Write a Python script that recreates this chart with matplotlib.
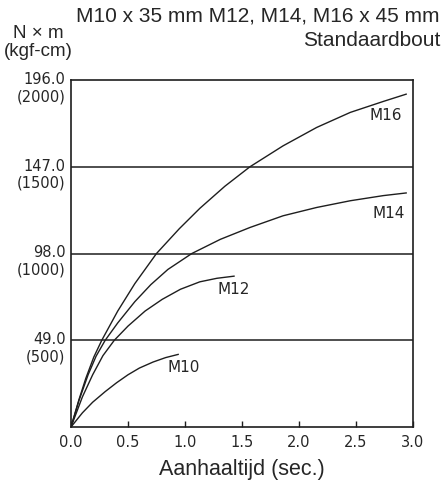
import matplotlib
matplotlib.use('Agg')
import matplotlib.pyplot as plt

# Aanhaalmoment (N x m) tegen aanhaaltijd (sec.)
m16_t = [0.0, 0.07, 0.13, 0.20, 0.27, 0.41, 0.56, 0.75, 0.95, 1.13, 1.35,
         1.57, 1.86, 2.155, 2.45, 2.74, 2.94]
m16_nm = [0.0, 15.5, 27.5, 39.5, 49.0, 65.5, 81.0, 98.0, 112.0, 123.5, 136.0,
          147.0, 158.8, 169.2, 177.7, 183.9, 188.0]

m14_t = [0.0, 0.07, 0.15, 0.22, 0.30, 0.41, 0.56, 0.70, 0.85, 1.06, 1.31,
         1.57, 1.86, 2.155, 2.45, 2.74, 2.94]
m14_nm = [0.0, 15.0, 29.5, 40.0, 49.0, 58.8, 70.8, 80.4, 89.0, 98.0, 106.0,
          112.7, 119.3, 124.0, 127.8, 130.7, 132.2]

m12_t = [0.0, 0.10, 0.19, 0.28, 0.38, 0.50, 0.65, 0.80, 0.96, 1.13, 1.28, 1.43]
m12_nm = [0.0, 17.0, 29.5, 40.3, 49.0, 57.0, 65.5, 72.1, 77.8, 82.0, 84.0, 85.2]

m10_t = [0.0, 0.10, 0.19, 0.30, 0.40, 0.50, 0.60, 0.72, 0.83, 0.94]
m10_nm = [0.0, 8.0, 14.0, 20.0, 25.0, 29.5, 33.3, 36.7, 39.2, 41.0]

labels = ['M16', 'M14', 'M12', 'M10']
label_pos = [(2.76, 176), (2.79, 120.5), (1.43, 77.5), (0.99, 33.5)]

x_ticks = [0.0, 0.5, 1.0, 1.5, 2.0, 2.5, 3.0]
y_ticks = [49.0, 98.0, 147.0, 196.0]
kgf_labels = ['(500)', '(1000)', '(1500)', '(2000)']

ink = '#1e1e1e'
txt = '#262626'

fig = plt.figure(figsize=(4.46, 4.82), dpi=100)
ax = fig.add_axes([71 / 446, 55 / 482, 342 / 446, 347 / 482])

for t, v in [(m16_t, m16_nm), (m14_t, m14_nm), (m12_t, m12_nm), (m10_t, m10_nm)]:
    ax.plot(t, v, color=ink, lw=1.0, solid_joinstyle='round')

for lab, (lx, ly) in zip(labels, label_pos):
    ax.text(lx, ly, lab, ha='center', va='center', fontsize=11,
            family='DejaVu Sans', color=txt)

# horizontale lijnen
for yv in y_ticks[:-1]:
    ax.axhline(yv, color=ink, lw=1.1)

ax.set_xlim(0, 3.0)
ax.set_ylim(0, 196)
ax.set_xticks(x_ticks)
ax.set_xticklabels([f'{v:.1f}' for v in x_ticks], family='DejaVu Sans',
                   fontsize=10.5, color=txt)
ax.tick_params(axis='x', direction='in', length=4, width=1.0, color=ink, pad=6)
ax.set_yticks([])

for yv, kl in zip(y_ticks, kgf_labels):
    ax.annotate(f'{yv:.1f}', xy=(0, yv), xycoords=('axes fraction', 'data'),
                xytext=(-4, 0.5), textcoords='offset points', ha='right',
                va='center', fontsize=10.5, family='DejaVu Sans', color=txt)
    ax.annotate(kl, xy=(0, yv), xycoords=('axes fraction', 'data'),
                xytext=(-4, -12), textcoords='offset points', ha='right',
                va='center', fontsize=10.5, family='DejaVu Sans', color=txt)

for s in ax.spines.values():
    s.set_color(ink)
    s.set_linewidth(1.2)

ax.set_xlabel('Aanhaaltijd (sec.)', family='Liberation Sans', fontsize=15.5,
              color=txt, labelpad=6)

fig.text(440 / 446, 1 - 16 / 482, 'M10 x 35 mm M12, M14, M16 x 45 mm',
         ha='right', va='center', family='Liberation Sans', fontsize=15, color=txt)
fig.text(440 / 446, 1 - 41 / 482, 'Standaardbout',
         ha='right', va='center', family='Liberation Sans', fontsize=15, color=txt)
fig.text(38 / 446, 1 - 34 / 482, 'N × m', ha='center', va='center',
         family='Liberation Sans', fontsize=13.5, color=txt)
fig.text(38 / 446, 1 - 51 / 482, '(kgf-cm)', ha='center', va='center',
         family='Liberation Sans', fontsize=13.5, color=txt)

fig.savefig('out.png', dpi=100)
